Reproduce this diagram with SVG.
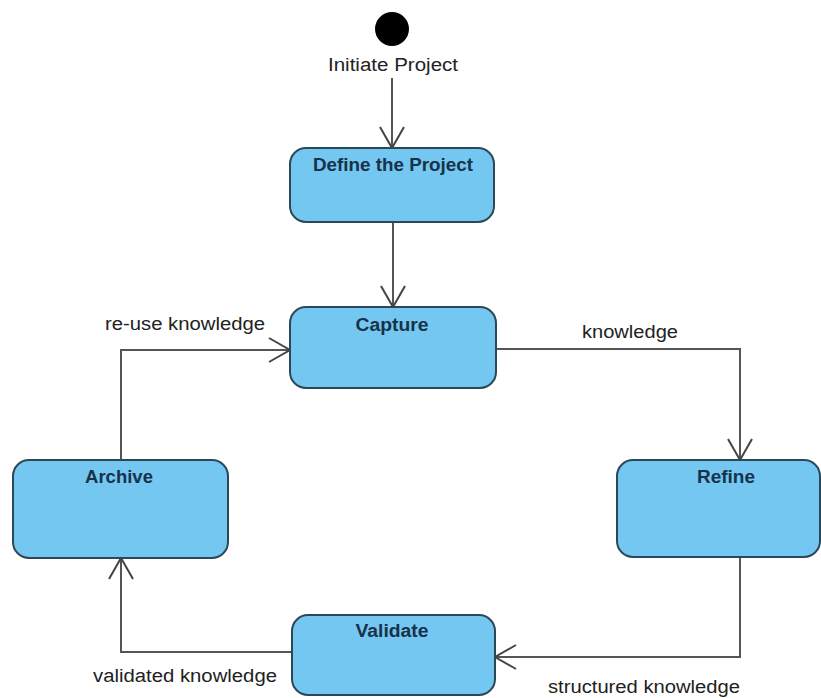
<svg xmlns="http://www.w3.org/2000/svg" width="821" height="698" viewBox="0 0 821 698">
  <style>
    .state { fill: #74c7f1; stroke: #2c4858; stroke-width: 2; }
    .title { font-family: "Liberation Sans", Arial, sans-serif; font-size: 18px; font-weight: bold; fill: #17324a; text-anchor: middle; }
    .label { font-family: "Liberation Sans", Arial, sans-serif; font-size: 18px; fill: #222; }
    .flow { fill: none; stroke: #555; stroke-width: 2; marker-end: url(#open); }
  </style>
  <defs>
    <marker id="open" markerUnits="userSpaceOnUse" viewBox="0 -13 24 26" refX="22" refY="0" markerWidth="24" markerHeight="26" orient="auto">
      <path d="M1,-12 L22,0 L1,12" fill="none" stroke="#444" stroke-width="2"/>
    </marker>
  </defs>
  <rect width="821" height="698" fill="#ffffff"/>

  <!-- connectors -->
  <g id="connectors">
    <path class="flow" d="M392,78 V148"/>
    <path class="flow" d="M393,222 V307"/>
    <path class="flow" d="M496,349 H740 V460"/>
    <path class="flow" d="M740,557 V657 H495"/>
    <path class="flow" d="M292,652 H121 V558"/>
    <path class="flow" d="M121,460 V350 H290"/>
    <text class="label" x="105" y="330" textLength="160" lengthAdjust="spacingAndGlyphs">re-use knowledge</text>
    <text class="label" x="582" y="338" textLength="96" lengthAdjust="spacingAndGlyphs">knowledge</text>
    <text class="label" x="93" y="682" textLength="184" lengthAdjust="spacingAndGlyphs">validated knowledge</text>
    <text class="label" x="548" y="693" textLength="192" lengthAdjust="spacingAndGlyphs">structured knowledge</text>
  </g>

  <!-- initial pseudo-state -->
  <g id="initial">
    <circle cx="392" cy="29" r="17" fill="#000"/>
    <text class="label" x="328" y="71" textLength="130" lengthAdjust="spacingAndGlyphs">Initiate Project</text>
  </g>

  <g id="define">
    <rect class="state" x="290" y="148" width="204" height="74" rx="16"/>
    <text class="title" x="393" y="171" textLength="160" lengthAdjust="spacingAndGlyphs">Define the Project</text>
  </g>

  <g id="capture">
    <rect class="state" x="290" y="307" width="206" height="81" rx="16"/>
    <text class="title" x="392" y="331" textLength="73" lengthAdjust="spacingAndGlyphs">Capture</text>
  </g>

  <g id="archive">
    <rect class="state" x="13" y="460" width="215" height="98" rx="16"/>
    <text class="title" x="119" y="483" textLength="68" lengthAdjust="spacingAndGlyphs">Archive</text>
  </g>

  <g id="refine">
    <rect class="state" x="617" y="460" width="203" height="97" rx="16"/>
    <text class="title" x="726" y="483" textLength="58" lengthAdjust="spacingAndGlyphs">Refine</text>
  </g>

  <g id="validate">
    <rect class="state" x="292" y="615" width="203" height="80" rx="16"/>
    <text class="title" x="392" y="637" textLength="73" lengthAdjust="spacingAndGlyphs">Validate</text>
  </g>
</svg>
